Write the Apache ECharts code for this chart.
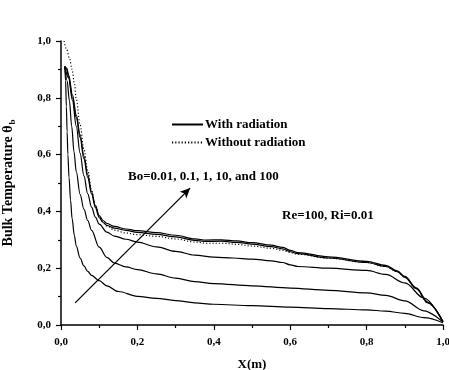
<!DOCTYPE html>
<html>
<head>
<meta charset="utf-8">
<script src="https://cdn.jsdelivr.net/npm/echarts@6/dist/echarts.min.js"></script>
<style>
  html, body { margin: 0; padding: 0; background: #fff; }
  #chart { width: 449px; height: 370px; }
</style>
</head>
<body>
<div id="chart"></div>
<script>
// Bulk temperature along the channel, Re=100, Ri=0.01
const xTicks = [0, 0.2, 0.4, 0.6, 0.8, 1.0];
const yTicks = [0, 0.2, 0.4, 0.6, 0.8, 1.0];

// With radiation, Bo = 0.01
const bo001 = [[0.01,0.91],[0.012,0.86],[0.014,0.77],[0.016,0.68],[0.018,0.6],[0.021,0.52],[0.025,0.44],[0.029,0.375],[0.035,0.315],[0.04,0.278],[0.05,0.236],[0.06,0.208],[0.07,0.189],[0.08,0.175],[0.1,0.156],[0.12,0.138],[0.15,0.118],[0.2,0.101],[0.25,0.094],[0.3,0.086],[0.35,0.078],[0.4,0.073],[0.5,0.068],[0.6,0.063],[0.7,0.058],[0.8,0.053],[0.85,0.049],[0.9,0.041],[0.95,0.026],[1.0,0.008]];
// Bo = 0.1
const bo01 = [[0.01,0.91],[0.016,0.86],[0.022,0.79],[0.028,0.7],[0.034,0.61],[0.04,0.54],[0.05,0.46],[0.06,0.408],[0.07,0.368],[0.08,0.333],[0.1,0.274],[0.12,0.238],[0.14,0.218],[0.17,0.205],[0.2,0.195],[0.25,0.18],[0.3,0.165],[0.35,0.153],[0.4,0.146],[0.5,0.138],[0.6,0.13],[0.7,0.122],[0.8,0.113],[0.85,0.104],[0.9,0.085],[0.95,0.05],[1.0,0.01]];
// Bo = 1
const bo1 = [[0.01,0.91],[0.02,0.87],[0.03,0.79],[0.04,0.7],[0.05,0.605],[0.06,0.525],[0.07,0.462],[0.08,0.415],[0.09,0.38],[0.1,0.355],[0.12,0.327],[0.14,0.313],[0.17,0.302],[0.2,0.292],[0.25,0.275],[0.3,0.259],[0.35,0.246],[0.4,0.239],[0.45,0.236],[0.5,0.232],[0.55,0.226],[0.58,0.22],[0.6,0.212],[0.62,0.206],[0.7,0.2],[0.8,0.192],[0.85,0.178],[0.9,0.148],[0.95,0.095],[1.0,0.01]];
// Bo = 10
const bo10 = [[0.01,0.91],[0.015,0.9],[0.02,0.872],[0.03,0.8],[0.04,0.73],[0.05,0.66],[0.06,0.585],[0.07,0.52],[0.08,0.462],[0.09,0.413],[0.1,0.378],[0.11,0.361],[0.12,0.351],[0.14,0.341],[0.17,0.333],[0.2,0.326],[0.25,0.319],[0.3,0.31],[0.35,0.298],[0.38,0.294],[0.42,0.295],[0.46,0.291],[0.5,0.285],[0.55,0.276],[0.58,0.268],[0.6,0.258],[0.62,0.251],[0.7,0.236],[0.8,0.22],[0.85,0.206],[0.88,0.188],[0.9,0.168],[0.93,0.128],[0.96,0.078],[1.0,0.012]];
// Bo = 100
const bo100 = [[0.01,0.91],[0.015,0.905],[0.02,0.88],[0.03,0.81],[0.04,0.74],[0.05,0.67],[0.06,0.595],[0.07,0.53],[0.08,0.47],[0.09,0.42],[0.1,0.385],[0.11,0.368],[0.12,0.358],[0.14,0.347],[0.17,0.338],[0.2,0.332],[0.25,0.325],[0.3,0.316],[0.35,0.303],[0.38,0.299],[0.42,0.3],[0.46,0.296],[0.5,0.29],[0.55,0.281],[0.58,0.273],[0.6,0.263],[0.62,0.255],[0.7,0.24],[0.8,0.224],[0.85,0.21],[0.88,0.191],[0.9,0.171],[0.93,0.131],[0.96,0.081],[1.0,0.012]];
// Without radiation
const noRad = [[0.008,1.0],[0.015,0.97],[0.022,0.94],[0.029,0.9],[0.035,0.85],[0.04,0.795],[0.05,0.705],[0.06,0.62],[0.07,0.545],[0.08,0.475],[0.09,0.42],[0.1,0.382],[0.11,0.362],[0.12,0.349],[0.14,0.334],[0.17,0.324],[0.2,0.318],[0.25,0.312],[0.3,0.303],[0.35,0.292],[0.38,0.288],[0.42,0.288],[0.46,0.284],[0.5,0.278],[0.55,0.27],[0.58,0.263],[0.6,0.255],[0.62,0.249],[0.7,0.235],[0.8,0.22],[0.85,0.206],[0.88,0.188],[0.9,0.168],[0.93,0.128],[0.96,0.078],[1.0,0.012]];

// Arrow showing increasing Bo
const arrowFrom = [0.037, 0.078];
const arrowTo = [0.338, 0.482];

const SERIF = '"Liberation Serif", "Times New Roman", serif';
const withRad = [bo001, bo01, bo1, bo10, bo100];

const lineSeries = withRad.map(d => ({
  name: 'With radiation',
  type: 'line',
  data: d,
  symbol: 'none',
  showSymbol: false,
  smooth: 0.35,
  smoothMonotone: 'x',
  lineStyle: { color: '#000', width: 1.2, type: 'solid' },
  itemStyle: { color: '#000' },
  z: 3
}));

lineSeries.push({
  name: 'Without radiation',
  type: 'line',
  data: noRad,
  symbol: 'none',
  showSymbol: false,
  smooth: 0.35,
  smoothMonotone: 'x',
  lineStyle: { color: '#000', width: 1.1, type: [1.2, 2] },
  itemStyle: { color: '#000' },
  z: 2
});

lineSeries.push({
  name: 'arrow',
  type: 'line',
  data: [],
  markLine: {
    silent: true,
    symbol: ['none', 'arrow'],
    symbolSize: [7, 10],
    label: { show: false },
    lineStyle: { color: '#000', width: 1.3, type: 'solid' },
    data: [[{ coord: arrowFrom }, { coord: arrowTo }]]
  }
});

const chart = echarts.init(document.getElementById('chart'), null, { renderer: 'canvas' });
const fmt = v => v.toFixed(1).replace('.', ',');

chart.setOption({
  animation: false,
  backgroundColor: '#fff',
  grid: { left: 61, right: 6, top: 41, bottom: 45, containLabel: false, outerBoundsMode: 'none' },
  legend: {
    data: ['With radiation', 'Without radiation'],
    orient: 'vertical',
    left: 166,
    top: 113,
    itemWidth: 31,
    itemHeight: 10,
    itemGap: 5,
    selectedMode: false,
    itemStyle: { opacity: 0, borderWidth: 0 },
    textStyle: { fontFamily: SERIF, fontWeight: 'bold', fontSize: 13, color: '#000', padding: [0, 0, 0, -3] }
  },
  xAxis: {
    type: 'value',
    min: xTicks[0], max: xTicks[xTicks.length - 1], interval: 0.2,
    name: 'X(m)',
    nameLocation: 'middle',
    nameGap: 33,
    nameTextStyle: { fontFamily: SERIF, fontWeight: 'bold', fontSize: 13, color: '#000' },
    axisLine: { lineStyle: { color: '#000', width: 1.5 } },
    axisTick: { length: 5, lineStyle: { color: '#000', width: 1.2 } },
    minorTick: { show: true, splitNumber: 2, length: 3, lineStyle: { color: '#000', width: 1.2 } },
    splitLine: { show: false },
    axisLabel: { formatter: fmt, fontFamily: SERIF, fontWeight: 'bold', fontSize: 11, color: '#000', margin: 12 }
  },
  yAxis: {
    type: 'value',
    min: yTicks[0], max: yTicks[yTicks.length - 1], interval: 0.2,
    name: '{a|Bulk Temperature θ}{s|b}',
    nameLocation: 'middle',
    nameGap: 44,
    nameRotate: 90,
    nameTextStyle: {
      rich: {
        a: { fontFamily: SERIF, fontWeight: 'bold', fontSize: 14, color: '#000' },
        s: { fontFamily: SERIF, fontWeight: 'bold', fontSize: 9, color: '#000', padding: [9, 0, 0, 1] }
      }
    },
    axisLine: { show: true, lineStyle: { color: '#000', width: 1.5 } },
    axisTick: { show: true, length: 5, lineStyle: { color: '#000', width: 1.2 } },
    minorTick: { show: true, splitNumber: 2, length: 3, lineStyle: { color: '#000', width: 1.2 } },
    splitLine: { show: false },
    axisLabel: { formatter: fmt, fontFamily: SERIF, fontWeight: 'bold', fontSize: 11, color: '#000', margin: 10 }
  },
  graphic: [
    {
      type: 'text', left: 128, top: 170,
      style: { text: 'Bo=0.01, 0.1, 1, 10, and 100', font: 'bold 13px ' + SERIF, fill: '#000' }
    },
    {
      type: 'text', left: 282, top: 209,
      style: { text: 'Re=100, Ri=0.01', font: 'bold 13px ' + SERIF, fill: '#000' }
    }
  ],
  series: lineSeries
});
</script>
</body>
</html>
